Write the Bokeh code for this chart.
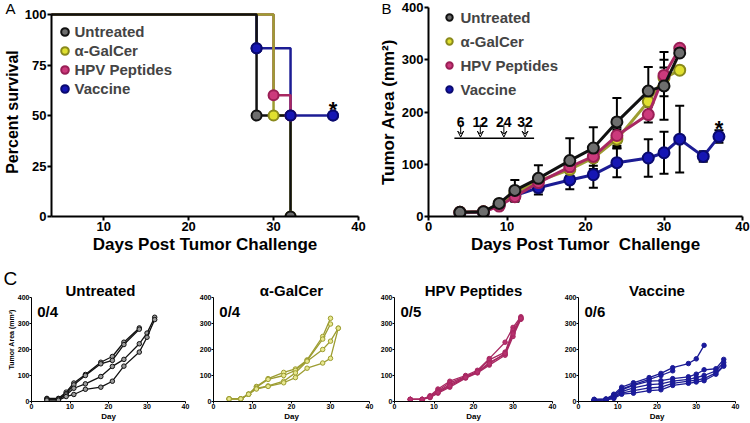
from bokeh.plotting import figure
from bokeh.layouts import column, row
from bokeh.models import (Range1d, FixedTicker, Legend, LegendItem, Title,
                          Whisker, ColumnDataSource, Arrow, VeeHead, TeeHead)
from bokeh.core.properties import value
from bokeh.embed import file_html
from bokeh.resources import INLINE

FONT = "Liberation Sans"

# ---------------- data ----------------
groups = ["Untreated", "\u03b1-GalCer", "HPV Peptides", "Vaccine"]

# Panel A: Kaplan-Meier survival
km_untreated_days = [0, 28, 32]
km_untreated_surv = [100, 50, 0]
km_galcer_days = [0, 30, 32]
km_galcer_surv = [100, 50, 0]
km_hpv_days = [0, 30, 32]
km_hpv_surv = [100, 60, 50]
km_vaccine_days = [0, 28, 32, 37]
km_vaccine_surv = [100, 83.3, 50, 50]

# Panel B: mean tumour area +- error
days = [4, 7, 9, 11, 14, 18, 21, 24, 28, 30, 32]
vaccine_days = [4, 7, 9, 11, 14, 18, 21, 24, 28, 30, 32, 35, 37]
untreated_mean = [8, 9, 25, 50, 73, 107, 131, 181, 240, 250, 313]
untreated_err = [1, 1, 3, 20, 25, 43, 40, 46, 46, 65, 5]
galcer_mean = [8, 9, 24, 45, 68, 90, 112, 148, 220, 265, 280]
galcer_err = [1, 1, 3, 8, 10, 12, 15, 18, 25, 35, 2]
hpv_mean = [8, 9, 20, 38, 65, 95, 115, 155, 195, 270, 322]
hpv_err = [1, 1, 3, 8, 12, 8, 6, 15, 15, 15, 5]
vaccine_mean = [7, 8, 22, 40, 55, 70, 80, 103, 112, 122, 148, 115, 153]
vaccine_err = [1, 1, 4, 12, 13, 18, 25, 28, 36, 40, 64, 10, 12]

# inset: treatment schedule
inset_labels = ["6", "12", "24", "32"]
inset_x = [4.1, 6.6, 9.6, 12.3]

# Panel C: individual mice
untreated_mice = [
    [12, 12, 36, 71, 104, 151, 173, 228, 283],
    [9, 9, 30, 64, 100, 145, 158, 219, 278],
    [9, 9, 25, 51, 68, 96, 135, 162, 222, 263, 324],
    [5, 5, 19, 27, 47, 55, 78, 136, 190, 247, 315],
]
galcer_mice = [
    [10, 10, 28, 58, 88, 112, 125, 160, 250, 320],
    [10, 10, 28, 55, 85, 100, 120, 157, 240, 298],
    [10, 10, 28, 50, 60, 78, 110, 155, 200, 232, 282],
    [10, 10, 28, 48, 58, 72, 92, 128, 148, 166, 282],
]
hpv_mice = [
    [8, 8, 22, 48, 78, 100, 120, 165, 228, 285, 326],
    [8, 8, 20, 42, 72, 97, 115, 160, 190, 275, 322],
    [8, 8, 18, 38, 65, 95, 112, 150, 182, 265, 318],
    [8, 8, 15, 32, 55, 90, 110, 140, 178, 250, 316],
    [8, 8, 17, 35, 60, 92, 113, 145, 185, 260, 320],
]
vaccine_mice = [
    [8, 10, 28, 55, 72, 92, 108, 130, 146, 164, 216],
    [5, 8, 25, 48, 65, 85, 100, 118],
    [8, 8, 22, 45, 62, 78, 80, 88, 95, 105, 122, 126, 162],
    [5, 8, 18, 38, 52, 65, 68, 78, 85, 92, 100, 118, 150],
    [5, 6, 15, 32, 42, 52, 55, 70, 78, 82, 88, 110, 140],
    [4, 5, 12, 28, 32, 42, 45, 62, 70, 75, 80, 105, 136],
]
mice_counts = ["0/4", "0/4", "0/5", "0/6"]

# ---------------- styles ----------------
LINE = ["#111111", "#9d9d32", "#a82862", "#1c1c94"]
FILL = ["#6e6e6e", "#e0e030", "#cc3a7c", "#1616b4"]
EDGE = ["#111111", "#8a8a1c", "#9a1f56", "#0a0a70"]
CFILL = ["#9a9a9a", "#e8e890", "#b8306e", "#1a1aa0"]


def style(p, tick_px, label_px, lw, tick_out, standoff):
    for ax in (p.xaxis[0], p.yaxis[0]):
        ax.axis_line_width = lw
        ax.axis_line_color = "black"
        ax.major_tick_line_width = lw
        ax.major_tick_line_color = "black"
        ax.major_tick_out = tick_out
        ax.major_tick_in = 0
        ax.minor_tick_line_color = None
        ax.major_label_text_font = FONT
        ax.major_label_text_font_style = "bold"
        ax.major_label_text_font_size = tick_px
        ax.major_label_text_color = "black"
        ax.axis_label_text_font = FONT
        ax.axis_label_text_font_style = "bold"
        ax.axis_label_text_font_size = label_px
        ax.axis_label_text_color = "black"
        ax.major_label_standoff = standoff
        ax.axis_label_standoff = standoff
    p.xgrid.visible = False
    p.ygrid.visible = False
    p.outline_line_color = None
    p.background_fill_color = "white"
    p.border_fill_color = "white"


def letter_title(p, text, offset, size="15px", standoff=-19):
    # panel letter drawn as a left-aligned title that takes (almost) no room
    p.title = Title(text=text, align="left", vertical_align="bottom", offset=offset,
                    standoff=standoff, text_font=FONT, text_font_size=size,
                    text_font_style="normal", text_color="black")


TOP_H = 256
BOT_H = 423 - TOP_H

# ---------------- Panel A ----------------
pA = figure(width=375, height=TOP_H, x_range=Range1d(3.86, 40), y_range=Range1d(0, 103.47),
            output_backend="svg", toolbar_location=None,
            min_border_left=49, min_border_right=17, min_border_top=7, min_border_bottom=40)
style(pA, "13px", "16px", 2, 4, 1)
pA.xaxis.axis_label_text_font_size = "17px"
pA.xaxis.ticker = FixedTicker(ticks=[10, 20, 30, 40])
pA.yaxis.ticker = FixedTicker(ticks=[0, 25, 50, 75, 100])
pA.yaxis.bounds = (0, 100)
pA.xaxis.axis_label = "Days Post Tumor Challenge"
pA.yaxis.axis_label = "Percent survival"

km = [(km_untreated_days, km_untreated_surv), (km_galcer_days, km_galcer_surv),
      (km_hpv_days, km_hpv_surv), (km_vaccine_days, km_vaccine_surv)]
for i in [3, 2, 1, 0]:
    d, s = km[i]
    pA.step(d, s, mode="after", line_color=LINE[i], line_width=2.5)
km_marks = {}
for i in [3, 2, 1, 0]:
    d, s = km[i]
    km_marks[i] = pA.scatter(d[1:], s[1:], size=10, fill_color=FILL[i],
                             line_color=EDGE[i], line_width=2)
pA.scatter(km_vaccine_days[1:], km_vaccine_surv[1:], size=10, fill_color=FILL[3],
           line_color=EDGE[3], line_width=2)
pA.text([km_vaccine_days[-1]], [km_vaccine_surv[-1]], text=["*"], text_font=value(FONT),
        text_font_style="bold", text_font_size="22px", text_align="center",
        text_baseline="alphabetic", y_offset=-6)
legA = Legend(items=[LegendItem(label=groups[i], renderers=[km_marks[i]]) for i in range(4)],
              location=(3.5, 118.5), glyph_width=19, glyph_height=19, label_height=19,
              spacing=0, padding=0, margin=0, label_standoff=1,
              border_line_color=None, background_fill_alpha=0,
              label_text_font=FONT, label_text_font_style="bold", label_text_font_size="15px")
pA.add_layout(legA)
letter_title(pA, "A", -46)

# ---------------- Panel B ----------------
pB = figure(width=375, height=TOP_H, x_range=Range1d(0, 40), y_range=Range1d(0, 400),
            output_backend="svg", toolbar_location=None,
            min_border_left=50, min_border_right=8, min_border_top=7, min_border_bottom=40)
style(pB, "13px", "17px", 2, 4, 1)
pB.xaxis.ticker = FixedTicker(ticks=[0, 10, 20, 30, 40])
pB.yaxis.ticker = FixedTicker(ticks=[0, 100, 200, 300, 400])
pB.xaxis.axis_label = "Days Post Tumor\u00a0 Challenge"
pB.yaxis.axis_label = "Tumor Area (mm\u00b2)"

series = [(days, untreated_mean, untreated_err), (days, galcer_mean, galcer_err),
          (days, hpv_mean, hpv_err), (vaccine_days, vaccine_mean, vaccine_err)]
for i in range(4):
    d, m, e = series[i]
    src = ColumnDataSource(dict(x=d, upper=[a + b for a, b in zip(m, e)],
                                lower=[a - b for a, b in zip(m, e)]))
    pB.add_layout(Whisker(source=src, base="x", upper="upper", lower="lower",
                          line_color="black", line_width=2,
                          upper_head=TeeHead(size=9, line_width=2, line_color="black"),
                          lower_head=TeeHead(size=9, line_width=2, line_color="black")))
b_marks = {}
for i in [3, 1, 2, 0]:
    d, m, e = series[i]
    pB.line(d, m, line_color=LINE[i], line_width=3)
    b_marks[i] = pB.scatter(d, m, size=11, fill_color=FILL[i], line_color=EDGE[i], line_width=2)
pB.text([vaccine_days[-1]], [vaccine_mean[-1] + vaccine_err[-1]], text=["*"],
        text_font=value(FONT), text_font_style="bold", text_font_size="22px",
        text_align="center", text_baseline="alphabetic", y_offset=-2)
legB = Legend(items=[LegendItem(label=groups[i], renderers=[b_marks[i]]) for i in range(4)],
              location=(12.5, 118), glyph_width=16, glyph_height=18, label_height=18,
              spacing=6, padding=0, margin=0, label_standoff=4,
              border_line_color=None, background_fill_alpha=0,
              label_text_font=FONT, label_text_font_style="bold", label_text_font_size="15px")
pB.add_layout(legB)
# inset: treatment schedule arrows
arr = ColumnDataSource(dict(x0=inset_x, y0=[176] * 4, x1=inset_x, y1=[152] * 4))
pB.add_layout(Arrow(source=arr, x_start="x0", y_start="y0", x_end="x1", y_end="y1",
                    line_width=1, line_color="black",
                    end=VeeHead(size=6, line_width=1, line_color="black", fill_color=None)))
pB.add_layout(Arrow(x_start=3.3, y_start=150, x_end=13.45, y_end=150, line_width=1.5,
                    line_color="black", end=None))
pB.text(inset_x, [181] * 4, text=inset_labels, text_font=value(FONT), text_font_style="bold",
        text_font_size="14px", text_align="center", text_baseline="alphabetic")
letter_title(pB, "B", -47)

# ---------------- Panel C ----------------
# (canvas width, frame left, frame right border, title centre (days), mice, days)
c_specs = [
    (190, 31, 5, 17.9, untreated_mice, days),
    (184, 23, 5, 20, galcer_mice, days),
    (187, 20, 9, 20, hpv_mice, days),
    (189, 16, 15, 20, vaccine_mice, vaccine_days),
]
c_figs = []
for i, (w, left, right, tx, mice, dd) in enumerate(c_specs):
    # frame reaches above the 400 tick so the panel title fits inside it;
    # the y axis itself is bounded to 0-400
    p = figure(width=w, height=BOT_H, x_range=Range1d(0, 40), y_range=Range1d(0, 476.9),
               output_backend="svg", toolbar_location=None,
               min_border_left=left, min_border_right=right, min_border_top=21,
               min_border_bottom=22)
    style(p, "7px", "8px", 1, 2, 0)
    p.xaxis.ticker = FixedTicker(ticks=[0, 10, 20, 30, 40])
    p.yaxis.ticker = FixedTicker(ticks=[0, 100, 200, 300, 400])
    p.yaxis.bounds = (0, 400)
    p.xaxis.axis_label = "Day"
    if i == 0:
        p.yaxis.axis_label = "Tumor Area (mm\u00b2)"
        p.yaxis.axis_label_text_font_size = "7px"
    for m in mice:
        x = dd[:len(m)]
        p.line(x, m, line_color=LINE[i], line_width=1.3)
        p.scatter(x, m, size=4.5, fill_color=CFILL[i], line_color=LINE[i], line_width=1)
    p.text([1.5], [345], text=[mice_counts[i]], text_font=value(FONT), text_font_style="bold",
           text_font_size="15px", text_align="left", text_baseline="alphabetic")
    p.text([tx], [426], text=[groups[i]], text_font=value(FONT), text_font_style="bold",
           text_font_size="15px", text_align="center", text_baseline="alphabetic")
    c_figs.append(p)
letter_title(c_figs[0], "C", -28, size="19px", standoff=-23)

layout = column(row(pA, pB), row(*c_figs))
open("out.html", "w").write(file_html(layout, INLINE))
